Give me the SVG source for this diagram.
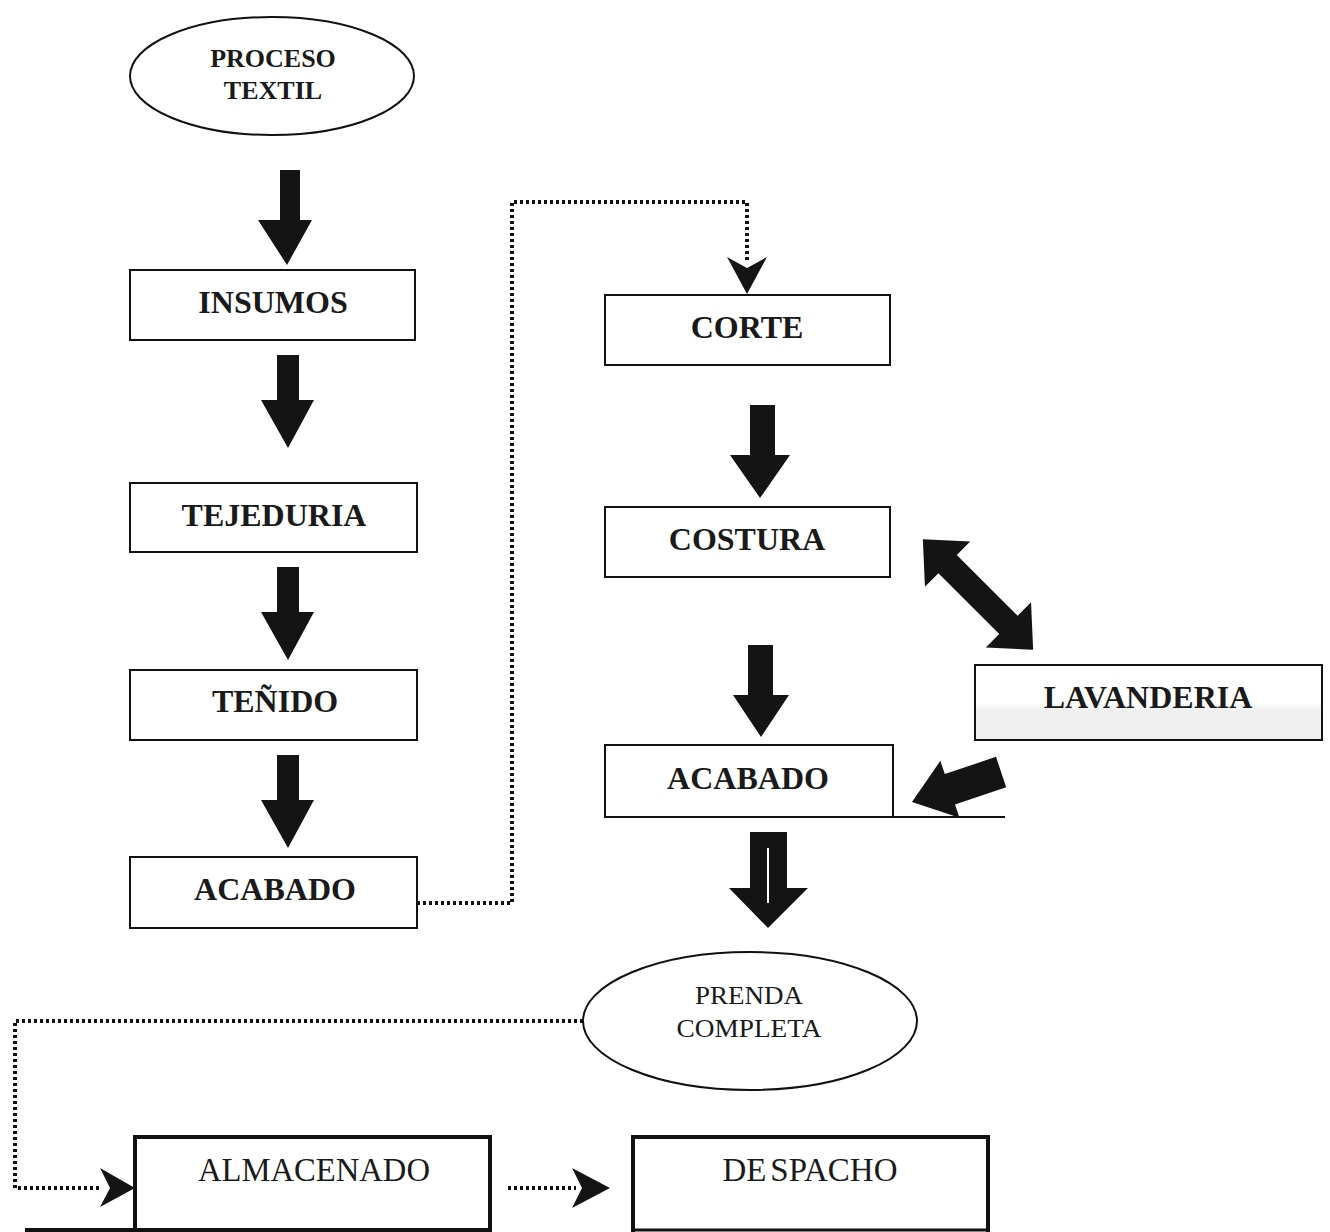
<svg xmlns="http://www.w3.org/2000/svg" width="1330" height="1232" viewBox="0 0 1330 1232">
<style>
.box{fill:#fff;stroke:#111;stroke-width:2}
.ell{fill:#fff;stroke:#111;stroke-width:2}
.blk{fill:#141414}
.dot{fill:none;stroke:#111;stroke-width:4;stroke-dasharray:3 3}
.lb{font-family:"Liberation Serif","Times New Roman",serif;font-weight:bold;font-size:32px;fill:#1a1a1a;text-anchor:middle}
.lr{font-family:"Liberation Serif","Times New Roman",serif;font-size:24px;fill:#1a1a1a;text-anchor:middle}
.thick{fill:none;stroke:#111;stroke-width:4}
</style>
<defs>
<linearGradient id="lav" x1="0" y1="0" x2="0" y2="1">
<stop offset="0" stop-color="#fff"/><stop offset="0.5" stop-color="#fff"/><stop offset="0.6" stop-color="#f0f0f0"/><stop offset="1" stop-color="#f0f0f0"/>
</linearGradient>
</defs>
<rect width="1330" height="1232" fill="#fff"/>

<g id="connectors">
<path class="blk" d="M280,170 H300 V220 H312 L287,265 L258,220 H280 Z"/>
<path class="blk" d="M277,355 H299 V400 H314 L288,448 L261,400 H277 Z"/>
<path class="blk" d="M277,567 H299 V612 H314 L288,660 L261,612 H277 Z"/>
<path class="blk" d="M277,755 H299 V800 H314 L288,848 L261,800 H277 Z"/>
<path class="dot" d="M417,903 H512 V202 H747 V262"/>
<path class="blk" d="M747,294 L727,257 L747,268 L767,257 Z"/>
<path class="blk" d="M750,405 H775 V455 H790 L760,498 L730,455 H750 Z"/>
<path class="blk" d="M748,645 H773 V695 H789 L761,737 L733,695 H748 Z"/>
<path class="blk" transform="translate(978,594.5) rotate(45)" d="M-78,0 L-43,-32 L-43,-13 L43,-13 L43,-32 L78,0 L43,32 L43,13 L-43,13 L-43,32 Z"/>
<path class="blk" transform="translate(912,802) rotate(161.4)" d="M0,0 L-40,-30 L-40,-16 L-94,-16 L-94,16 L-40,16 L-40,30 Z"/>
<path class="blk" d="M750,832 H787 V888 H808 L768,928 L729,888 H750 Z"/>
<line x1="768" y1="848" x2="768" y2="903" stroke="#fff" stroke-width="2"/>
<path class="dot" d="M583,1021 H15 V1188 H102"/>
<path class="blk" d="M135,1188 L100,1168 L110,1188 L100,1207 Z"/>
<path class="dot" d="M508,1188 H576"/>
<path class="blk" d="M610,1188 L572,1168 L582,1188 L572,1208 Z"/>
</g>

<g id="proceso-textil">
<ellipse class="ell" cx="272" cy="76" rx="142" ry="59"/>
<text class="lb" x="273" y="67" style="font-size:26px">PROCESO</text>
<text class="lb" x="273" y="99" style="font-size:26px">TEXTIL</text>
</g>
<g id="insumos">
<rect class="box" x="130" y="270" width="285" height="70"/>
<text class="lb" x="273" y="313">INSUMOS</text>
</g>
<g id="tejeduria">
<rect class="box" x="130" y="483" width="287" height="69"/>
<text class="lb" x="274" y="526">TEJEDURIA</text>
</g>
<g id="tenido">
<rect class="box" x="130" y="670" width="287" height="70"/>
<text class="lb" x="275" y="712">TEÑIDO</text>
</g>
<g id="acabado-1">
<rect class="box" x="130" y="857" width="287" height="71"/>
<text class="lb" x="275" y="900">ACABADO</text>
</g>
<g id="corte">
<rect class="box" x="605" y="295" width="285" height="70"/>
<text class="lb" x="747" y="338">CORTE</text>
</g>
<g id="costura">
<rect class="box" x="605" y="507" width="285" height="70"/>
<text class="lb" x="747" y="550">COSTURA</text>
</g>
<g id="lavanderia">
<rect x="975" y="665" width="347" height="75" fill="url(#lav)" stroke="#111" stroke-width="2"/>
<text class="lb" x="1148" y="708">LAVANDERIA</text>
</g>
<g id="acabado-2">
<rect class="box" x="605" y="745" width="288" height="72"/>
<line x1="605" y1="817" x2="1005" y2="817" stroke="#111" stroke-width="2"/>
<text class="lb" x="748" y="789">ACABADO</text>
</g>
<g id="prenda-completa">
<ellipse class="ell" cx="750" cy="1021" rx="167" ry="69"/>
<text class="lr" x="749" y="1004" style="font-size:26px" textLength="108" lengthAdjust="spacingAndGlyphs">PRENDA</text>
<text class="lr" x="749" y="1037" style="font-size:26px" textLength="145" lengthAdjust="spacingAndGlyphs">COMPLETA</text>
</g>
<g id="almacenado">
<path class="thick" d="M135,1232 V1137 H490 V1232"/>
<line x1="25" y1="1230" x2="492" y2="1230" stroke="#111" stroke-width="4"/>
<text class="lr" x="314" y="1181" style="font-size:34px" textLength="232" lengthAdjust="spacingAndGlyphs">ALMACENADO</text>
</g>
<g id="despacho">
<path class="thick" d="M633,1232 V1137 H988 V1232"/>
<line x1="633" y1="1230" x2="988" y2="1230" stroke="#111" stroke-width="3"/>
<text class="lr" x="810" y="1181" style="font-size:34px" textLength="175" lengthAdjust="spacingAndGlyphs">DE<tspan dx="4">SPACHO</tspan></text>
</g>
</svg>
